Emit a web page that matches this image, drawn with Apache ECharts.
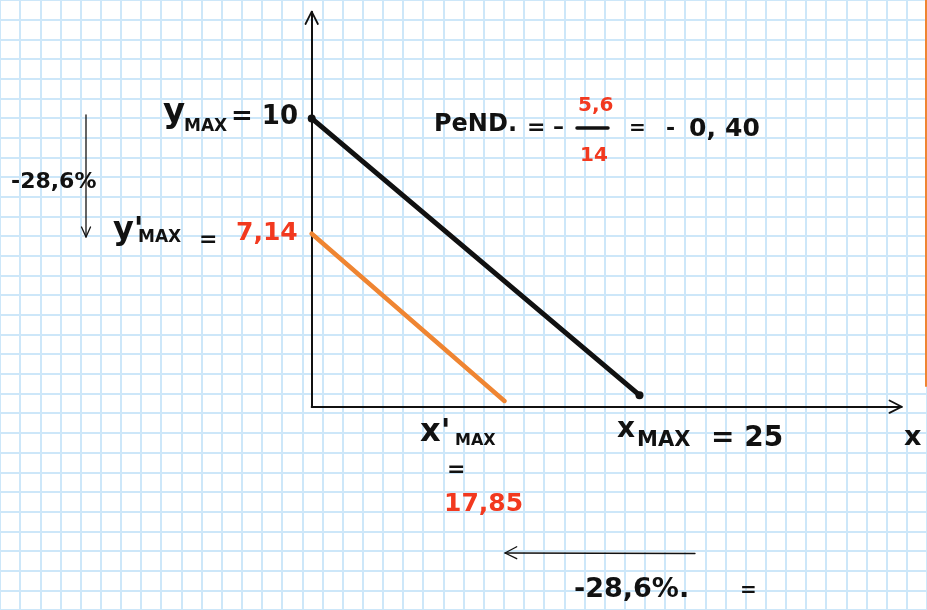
<!DOCTYPE html>
<html>
<head>
<meta charset="utf-8">
<title>Retta di bilancio</title>
<script src="https://cdn.jsdelivr.net/npm/echarts@6/dist/echarts.min.js"></script>
<style>
  html, body { margin: 0; padding: 0; background: #fff; }
  #main { width: 927px; height: 610px; }
</style>
</head>
<body>
<div id="main"></div>
<script>
// valori (unita' del grafico, non in scala)
var blackLine = [[0, 10], [25, 0.4]];
var orangeLine = [[0, 6], [14.7, 0.2]];
var yMax = '10', yMaxNew = '7,14';
var xMax = '25', xMaxNew = '17,85';
var slopeNum = '5,6', slopeDen = '14', slope = ['0,', '40'];
var change = '-28,6%';

var INK = '#111', RED = '#f2391f', ORANGE = '#ef8532', PAPER = '#cde7f9';
var FONT = '"DejaVu Sans"';

function txt(x, y, s, size, color) {
  return {
    type: 'text', x: x, y: y, silent: true, z: 10,
    style: {
      text: s, fill: color || INK,
      font: 'bold ' + size + 'px ' + FONT,
      align: 'left', verticalAlign: 'middle'
    }
  };
}
function pl(points, w, color) {
  return {
    type: 'polyline', silent: true, z: 10,
    shape: { points: points },
    style: { stroke: color || INK, lineWidth: w, fill: null, lineCap: 'round', lineJoin: 'round' }
  };
}

var myChart = echarts.init(document.getElementById('main'));

var option = {
  backgroundColor: '#fff',
  animation: false,
  grid: [
    // carta a quadretti
    { left: -3.56, top: -9.56, width: 959.56, height: 646.66 },
    // assi del disegno
    { left: 311.7, top: 11.7, width: 590, height: 395 }
  ],
  xAxis: [{
    gridIndex: 0, type: 'value', min: 0, max: 46, interval: 1,
    axisLine: { show: false }, axisTick: { show: false }, axisLabel: { show: false },
    splitLine: { show: true, lineStyle: { color: PAPER, width: 2 } }
  }, {
    gridIndex: 1, type: 'value', min: 0, max: 45,
    axisLine: { show: true, onZero: false, lineStyle: { color: INK, width: 2 } },
    axisTick: { show: false }, axisLabel: { show: false }, splitLine: { show: false }
  }],
  yAxis: [{
    gridIndex: 0, type: 'value', min: 0, max: 31, interval: 1,
    axisLine: { show: false }, axisTick: { show: false }, axisLabel: { show: false },
    splitLine: { show: true, lineStyle: { color: PAPER, width: 2 } }
  }, {
    gridIndex: 1, type: 'value', min: 0, max: 13.7,
    axisLine: { show: true, onZero: false, lineStyle: { color: INK, width: 2 } },
    axisTick: { show: false }, axisLabel: { show: false }, splitLine: { show: false }
  }],
  series: [{
    type: 'line', xAxisIndex: 1, yAxisIndex: 1,
    data: orangeLine, symbol: 'none', silent: true,
    lineStyle: { color: ORANGE, width: 4.5, cap: 'round' }, z: 3
  }, {
    type: 'line', xAxisIndex: 1, yAxisIndex: 1,
    data: blackLine, symbol: 'circle', symbolSize: 8, showSymbol: true, silent: true,
    itemStyle: { color: INK }, lineStyle: { color: INK, width: 5, cap: 'round' }, z: 4
  }],
  graphic: [
    // punte delle frecce sugli assi
    pl([[305.5, 24], [311.7, 11.7], [317.9, 24]], 1.8),
    pl([[889.5, 400.5], [901.7, 406.7], [889.5, 412.9]], 1.8),
    // freccia verticale a sinistra
    pl([[86, 115], [86, 237]], 1.3),
    pl([[81.5, 227], [86, 237], [90.5, 227]], 1.3),
    // freccia orizzontale in basso
    pl([[695, 553.5], [505, 553]], 1.3),
    pl([[516.7, 546.7], [505, 553], [516.7, 558.7]], 1.3),
    // segno arancione sul bordo destro
    pl([[926, 0], [926, 386]], 2, ORANGE),
    // linea di frazione
    pl([[577, 128], [608, 128]], 3.5),

    txt(163, 113, 'y', 34),
    txt(184, 127, 'MAX', 17),
    txt(231, 117, '= ' + yMax, 26),
    txt(11, 182, change, 22),
    txt(113, 231, "y'", 32),
    txt(138, 238, 'MAX', 17),
    txt(199, 240, '=', 22),
    txt(236, 233, yMaxNew, 25, RED),

    txt(434, 125, 'PeND.', 24),
    txt(527, 128, '= \u2013', 22),
    txt(578, 106, slopeNum, 20, RED),
    txt(580, 156, slopeDen, 20, RED),
    txt(629, 129, '=', 20),
    txt(666, 129, '-', 22),
    txt(689, 129, slope[0], 25),
    txt(725, 129, slope[1], 25),

    txt(420, 433, "x'", 32),
    txt(455, 441, 'MAX', 16),
    txt(447, 470, '=', 22),
    txt(444, 504, xMaxNew, 25, RED),

    txt(617, 430, 'x', 28),
    txt(637, 441, 'MAX', 21),
    txt(711, 439, '= ' + xMax, 28),
    txt(904, 438, 'x', 27),

    txt(574, 590, change + '.', 27),
    txt(740, 591, '=', 20)
  ]
};

myChart.setOption(option);
</script>
</body>
</html>
